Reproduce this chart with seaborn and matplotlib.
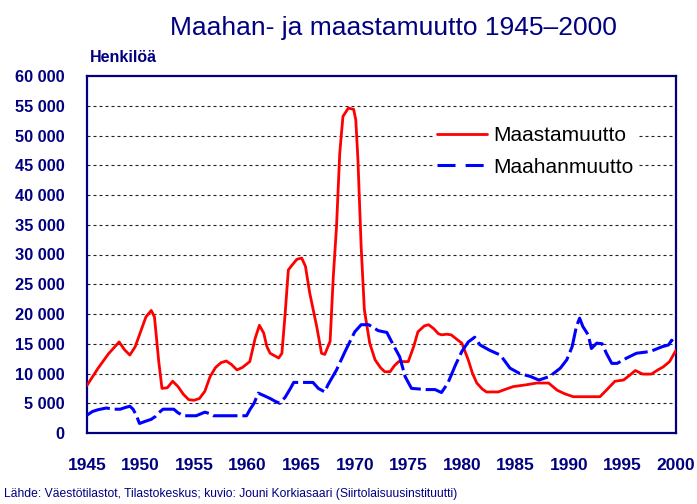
import matplotlib
matplotlib.use('Agg')
import matplotlib.pyplot as plt
from matplotlib.lines import Line2D
import pandas as pd
import seaborn as sns

# Emigration (Maastamuutto), persons
emi_years = [1945.0, 1946.0, 1947.0, 1948.0, 1948.5, 1949.0, 1949.5, 1950.0, 1950.5,
             1951.0, 1951.3, 1951.7, 1952.0, 1952.5, 1953.0, 1953.5, 1954.0, 1954.5,
             1955.0, 1955.5, 1956.0, 1956.5, 1957.0, 1957.5, 1958.0, 1958.5, 1959.0,
             1959.5, 1960.2, 1960.7, 1961.1, 1961.5, 1961.8, 1962.1, 1962.9, 1963.2,
             1963.5, 1963.8, 1964.05, 1964.6, 1965.05, 1965.4, 1965.8, 1966.45, 1966.9,
             1967.2, 1967.7, 1968.0, 1968.3, 1968.6, 1968.9, 1969.4, 1969.9, 1970.1,
             1970.3, 1970.6, 1970.9, 1971.4, 1971.9, 1972.4, 1972.8, 1973.3, 1973.7,
             1974.1, 1974.6, 1975.0, 1975.5, 1975.9, 1976.5, 1976.9, 1977.4, 1977.8,
             1978.1, 1978.6, 1979.0, 1979.5, 1980.0, 1980.6, 1981.0, 1981.4, 1981.9,
             1982.3, 1983.4, 1984.0, 1984.8, 1986.0, 1987.0, 1988.1, 1988.5, 1988.9,
             1989.6, 1990.4, 1992.9, 1993.5, 1994.3, 1995.1, 1995.6, 1996.2, 1996.9,
             1997.7, 1998.3, 1998.8, 1999.4, 2000.0]
emi_values = [8000, 10800, 13300, 15300, 14000, 13100, 14500, 17000, 19500,
              20600, 19500, 12000, 7500, 7600, 8700, 7800, 6500, 5600,
              5500, 5800, 7000, 9500, 11000, 11800, 12100, 11500, 10600,
              11000, 12000, 15900, 18100, 16800, 14500, 13400, 12600, 13400,
              20000, 27400, 28000, 29200, 29400, 28000, 23500, 17900, 13400,
              13200, 15400, 26300, 34700, 47000, 53200, 54600, 54400, 52600,
              45900, 31300, 20700, 15100, 12300, 11000, 10300, 10300, 11300,
              12000, 12000, 12000, 14500, 17000, 18000, 18200, 17500, 16700,
              16500, 16600, 16500, 15800, 15100, 12300, 10000, 8400, 7400,
              6900, 6900, 7300, 7800, 8100, 8400, 8400, 7800, 7200,
              6600, 6100, 6100, 7200, 8700, 8900, 9600, 10500, 9900,
              9900, 10600, 11100, 12000, 13900]

# Immigration (Maahanmuutto), persons
imm_years = [1945.0, 1945.5, 1946.0, 1946.8, 1947.5, 1948.1, 1948.6, 1949.0, 1949.3,
             1949.6, 1949.9, 1950.5, 1951.0, 1951.4, 1951.7, 1952.1, 1953.1, 1953.5,
             1954.0, 1955.2, 1956.0, 1956.4, 1956.8, 1958.0, 1959.9, 1960.2, 1960.6,
             1961.0, 1961.5, 1962.1, 1962.6, 1963.0, 1963.5, 1964.0, 1964.3, 1965.0,
             1966.1, 1966.6, 1967.2, 1967.5, 1968.3, 1969.1, 1970.0, 1970.6, 1971.3,
             1972.2, 1973.0, 1973.6, 1974.2, 1974.7, 1975.3, 1976.7, 1977.5, 1978.1,
             1978.7, 1979.4, 1980.0, 1980.6, 1981.2, 1981.7, 1982.6, 1983.6, 1984.5,
             1985.4, 1986.4, 1987.2, 1988.2, 1989.2, 1989.8, 1990.3, 1990.7, 1991.0,
             1991.3, 1991.8, 1992.1, 1992.6, 1993.1, 1993.5, 1994.0, 1994.5, 1995.4,
             1996.3, 1997.6, 1998.7, 1999.3, 1999.6, 2000.0]
imm_values = [3000, 3600, 3900, 4200, 4000, 4000, 4300, 4500, 4000,
              3000, 1600, 2000, 2300, 2800, 3400, 4000, 4000, 3400,
              2900, 2900, 3500, 3300, 2900, 2900, 2900, 3900, 5000,
              6700, 6300, 5800, 5300, 5000, 6000, 7500, 8500, 8500,
              8500, 7500, 6900, 8100, 10600, 13700, 17000, 18200, 18200,
              17200, 16900, 14800, 12800, 9500, 7500, 7300, 7300, 6800,
              8400, 11400, 13700, 15300, 16100, 14800, 13900, 13100, 10900,
              10000, 9500, 8900, 9500, 10900, 12300, 14500, 17900, 19300,
              17900, 16500, 14200, 15100, 15000, 13400, 11700, 11700, 12600,
              13400, 13700, 14500, 14800, 15600, 14800]

series_names = ['Maastamuutto', 'Maahanmuutto']
year_ticks = [1945, 1950, 1955, 1960, 1965, 1970, 1975, 1980, 1985, 1990, 1995, 2000]
y_ticks = [0, 5000, 10000, 15000, 20000, 25000, 30000, 35000, 40000, 45000, 50000, 55000, 60000]
y_tick_labels = ['0', '5 000', '10 000', '15 000', '20 000', '25 000', '30 000',
                 '35 000', '40 000', '45 000', '50 000', '55 000', '60 000']

navy = '#000080'
sns.set_style('white')
plt.rcParams['font.family'] = ['Liberation Sans', 'DejaVu Sans']

df_emi = pd.DataFrame({'year': emi_years, 'value': emi_values})
df_imm = pd.DataFrame({'year': imm_years, 'value': imm_values})

fig = plt.figure(figsize=(6.97, 5.04), dpi=100)
ax = fig.add_axes([87 / 697, 1 - 433 / 504, (676 - 87) / 697, (433 - 76) / 504])

# dashed horizontal grid
for y in y_ticks[1:-1]:
    ax.axhline(y, color='#222222', lw=0.8, ls=(0, (2.7, 2.7)), zorder=1)

sns.lineplot(data=df_emi, x='year', y='value', ax=ax, color='#ff0000', lw=2.0,
             sort=False, estimator=None, zorder=3)
sns.lineplot(data=df_imm, x='year', y='value', ax=ax, color='#0000ff', lw=2.2,
             sort=False, estimator=None, ls=(0, (8, 1.6)), zorder=3)

ax.set_xlim(1945, 2000)
ax.set_ylim(0, 60000)
ax.set_xticks(year_ticks)
ax.set_xticklabels([str(y) for y in year_ticks])
ax.set_yticks(y_ticks)
ax.set_yticklabels(y_tick_labels)
ax.set_xlabel('')
ax.set_ylabel('')
ax.grid(False)

for s in ax.spines.values():
    s.set_color(navy)
    s.set_linewidth(1.6)
ax.tick_params(axis='both', direction='out', color=navy, width=1.6, labelcolor=navy)
ax.tick_params(axis='y', length=4, pad=12, labelsize=11.8)
ax.tick_params(axis='x', length=6, pad=12, labelsize=12.5)
for lab in ax.get_xticklabels() + ax.get_yticklabels():
    lab.set_fontweight('bold')

handles = [Line2D([], [], color='#ff0000', lw=2.0),
           Line2D([], [], color='#0000ff', lw=2.2, ls=(0, (5.9, 3.3)))]
leg = ax.legend(handles, series_names, loc='upper left',
                bbox_to_anchor=((433 - 87) / 589, 1 - (122 - 76) / 357),
                frameon=True, fancybox=False, framealpha=1, edgecolor='white',
                fontsize=15, handlelength=2.4, handletextpad=0.3,
                labelspacing=0.6, borderpad=0.2, borderaxespad=0)
leg.get_frame().set_linewidth(0)
leg.set_zorder(4)
for t in leg.get_texts():
    t.set_color('black')

fig.text(393 / 697, 1 - 28 / 504, 'Maahan- ja maastamuutto 1945\u20132000',
         ha='center', va='center', fontsize=19, color=navy)
fig.text(90 / 697, 1 - 58 / 504, 'Henkilöä', ha='left', va='center',
         fontsize=11.5, fontweight='bold', color=navy)
fig.text(4 / 697, 1 - 494 / 504,
         'Lähde: Väestötilastot, Tilastokeskus; kuvio: Jouni Korkiasaari (Siirtolaisuusinstituutti)',
         ha='left', va='center', fontsize=8.7, color=navy)

fig.savefig('out.png', dpi=100)
